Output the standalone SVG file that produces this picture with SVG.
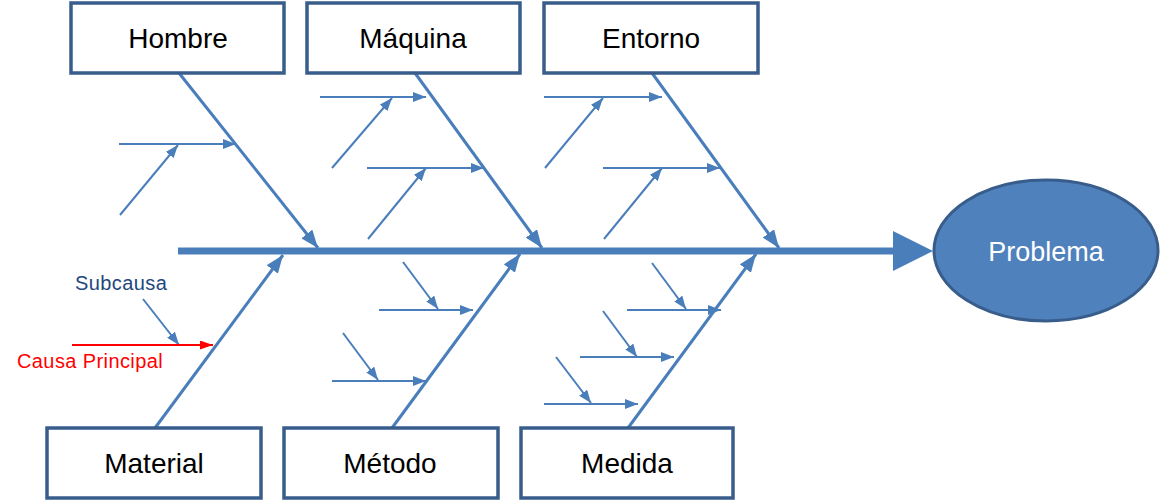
<svg xmlns="http://www.w3.org/2000/svg" width="1161" height="502" viewBox="0 0 1161 502">
<style>
.box{fill:#fff;stroke:#385D8A;stroke-width:3.5}
.lbl{font-family:"Liberation Sans",Arial,sans-serif;font-size:28px;fill:#000;text-anchor:middle}
.bone{stroke:#4A7EBB;stroke-width:3;fill:none;marker-end:url(#big)}
.sub{stroke:#4A7EBB;stroke-width:2;fill:none;marker-end:url(#small)}
.leg{font-family:"Liberation Sans",Arial,sans-serif;font-size:20px;letter-spacing:0.4px}
</style>
<defs>
<marker id="big" markerUnits="userSpaceOnUse" markerWidth="18" markerHeight="14" refX="18" refY="7" orient="auto"><path d="M0,0 L18,7 L0,14 z" fill="#4A7EBB"/></marker>
<marker id="small" markerUnits="userSpaceOnUse" markerWidth="13" markerHeight="10" refX="13" refY="5" orient="auto"><path d="M0,0 L13,5 L0,10 z" fill="#4A7EBB"/></marker>
<marker id="red" markerUnits="userSpaceOnUse" markerWidth="13" markerHeight="9" refX="13" refY="4.5" orient="auto"><path d="M0,0 L13,4.5 L0,9 z" fill="#FF0000"/></marker>
</defs>
<rect width="1161" height="502" fill="#fff"/>
<g id="connectors">
<line x1="178" y1="251" x2="896" y2="251" stroke="#4A7EBB" stroke-width="7"/>
<polygon points="893,231 933,251 893,271" fill="#4A7EBB"/>
<line class="bone" x1="179" y1="73" x2="318" y2="248"/>
<line class="bone" x1="415" y1="73" x2="542" y2="248"/>
<line class="bone" x1="652" y1="73" x2="779" y2="248"/>
<line class="bone" x1="155" y1="428" x2="283" y2="255"/>
<line class="bone" x1="392" y1="428" x2="520" y2="254"/>
<line class="bone" x1="628" y1="428" x2="756" y2="254"/>
<line class="sub" x1="119" y1="144" x2="236" y2="144"/>
<line class="sub" x1="120" y1="215" x2="178" y2="145"/>
<line class="sub" x1="320" y1="97" x2="426" y2="97"/>
<line class="sub" x1="332" y1="168" x2="392" y2="98"/>
<line class="sub" x1="367" y1="168" x2="484" y2="168"/>
<line class="sub" x1="368" y1="239" x2="426" y2="168"/>
<line class="sub" x1="544" y1="97" x2="662" y2="97"/>
<line class="sub" x1="545" y1="168" x2="603" y2="98"/>
<line class="sub" x1="603" y1="168" x2="720" y2="168"/>
<line class="sub" x1="604" y1="239" x2="662" y2="168"/>
<line class="sub" x1="379" y1="310" x2="473" y2="310"/>
<line class="sub" x1="403" y1="262" x2="438" y2="309"/>
<line class="sub" x1="332" y1="381" x2="426" y2="381"/>
<line class="sub" x1="343" y1="333" x2="378" y2="380"/>
<line class="sub" x1="627" y1="310" x2="721" y2="310"/>
<line class="sub" x1="652" y1="263" x2="686" y2="309"/>
<line class="sub" x1="580" y1="357" x2="674" y2="357"/>
<line class="sub" x1="603" y1="311" x2="637" y2="357"/>
<line class="sub" x1="544" y1="404" x2="638" y2="404"/>
<line class="sub" x1="556" y1="357" x2="591" y2="403"/>
<line class="sub" x1="143" y1="299" x2="179" y2="345"/>
<line x1="72" y1="345" x2="213" y2="345" stroke="#FF0000" stroke-width="2" marker-end="url(#red)"/>
</g>
<g id="hombre"><rect class="box" x="71" y="3" width="213" height="70"/><text class="lbl" x="178" y="48">Hombre</text></g>
<g id="maquina"><rect class="box" x="307" y="3" width="213" height="70"/><text class="lbl" x="413" y="48">Máquina</text></g>
<g id="entorno"><rect class="box" x="544" y="3" width="214" height="70"/><text class="lbl" x="651" y="48">Entorno</text></g>
<g id="material"><rect class="box" x="47" y="428" width="214" height="70"/><text class="lbl" x="154" y="473">Material</text></g>
<g id="metodo"><rect class="box" x="284" y="428" width="214" height="70"/><text class="lbl" x="390" y="473">Método</text></g>
<g id="medida"><rect class="box" x="521" y="428" width="212" height="70"/><text class="lbl" x="627" y="473">Medida</text></g>
<g id="problema"><ellipse cx="1046" cy="250.5" rx="112" ry="70.5" fill="#4F81BD" stroke="#385D8A" stroke-width="3"/><text x="1046" y="261" font-family="'Liberation Sans',Arial,sans-serif" font-size="27" fill="#fff" text-anchor="middle">Problema</text></g>
<g id="legend">
<text class="leg" x="75" y="290" fill="#1F497D">Subcausa</text>
<text class="leg" x="17" y="368" fill="#FF0000">Causa Principal</text>
</g>
</svg>
